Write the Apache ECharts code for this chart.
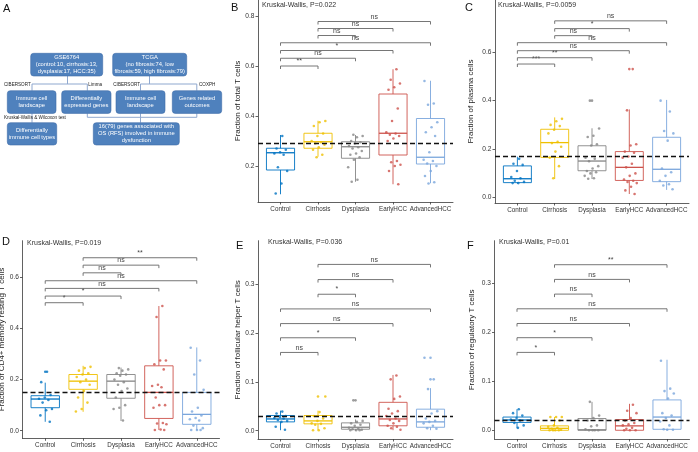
<!DOCTYPE html>
<html><head><meta charset="utf-8">
<script src="https://cdn.jsdelivr.net/npm/echarts@6/dist/echarts.min.js"></script>
<style>html,body{margin:0;padding:0;background:#fff}#c{width:698px;height:452px}</style>
</head><body><div id="c"></div>
<script>
// ---------------- DATA ----------------
const groups = ['Control','Cirrhosis','Dysplasia','EarlyHCC','AdvancedHCC'];
const groupColors = ['#0073C2','#EFC000','#868686','#CD534C','#7AA6DC'];
const comparisons = [[0,1],[0,2],[0,3],[0,4],[1,2],[1,3],[1,4]];

// Panel B : total T cells   box stats = [min, Q1, median, Q3, max]
const bStats = [[0.087,0.184,0.253,0.271,0.324],[0.237,0.271,0.297,0.331,0.381],[0.137,0.231,0.277,0.297,0.324],[0.127,0.244,0.331,0.488,0.587],[0.131,0.208,0.235,0.390,0.541]];
const bPoints = [
  [0.32,0.27,0.265,0.255,0.25,0.245,0.195,0.18,0.13,0.09],
  [0.38,0.375,0.36,0.33,0.32,0.30,0.295,0.29,0.285,0.275,0.265,0.245,0.235],
  [0.325,0.32,0.315,0.30,0.295,0.29,0.28,0.275,0.27,0.26,0.25,0.245,0.235,0.225,0.195,0.145,0.137],
  [0.587,0.545,0.53,0.515,0.505,0.43,0.38,0.335,0.33,0.325,0.32,0.31,0.30,0.22,0.215,0.205,0.20,0.18,0.127],
  [0.54,0.45,0.445,0.375,0.355,0.335,0.32,0.255,0.225,0.22,0.21,0.20,0.18,0.16,0.135,0.13]];
const bOutliers = [[],[],[],[],[]];
const bRef = 0.291;
const bBracketY = [0.600,0.631,0.662,0.693,0.722,0.750,0.778];
const bBracketLabels = ['**','ns','*','ns','ns','ns','ns'];
const bYTicks = [0.2,0.4,0.6,0.8];
const bTitle = 'Fraction of total T cells';
const bKW = 'Kruskal-Wallis, P=0.022';

// Panel C : plasma cells
const cStats = [[0.058,0.062,0.078,0.131,0.169],[0.077,0.166,0.227,0.282,0.331],[0.077,0.111,0.151,0.214,0.286],[0.015,0.071,0.125,0.190,0.364],[0.032,0.066,0.117,0.249,0.403]];
const cPoints = [
  [0.16,0.14,0.135,0.11,0.085,0.08,0.07,0.065,0.06,0.06],
  [0.325,0.315,0.30,0.295,0.28,0.265,0.23,0.225,0.21,0.19,0.165,0.13,0.08],
  [0.40,0.285,0.255,0.25,0.22,0.215,0.165,0.16,0.15,0.13,0.12,0.11,0.105,0.10,0.09,0.08,0.078],
  [0.53,0.36,0.22,0.215,0.19,0.185,0.17,0.165,0.14,0.125,0.10,0.09,0.075,0.07,0.065,0.06,0.045,0.03,0.015],
  [0.40,0.355,0.275,0.265,0.235,0.12,0.105,0.09,0.07,0.055,0.05,0.035]];
const cOutliers = [[],[],[0.40],[0.53],[]];
const cRef = 0.165;
const cBracketY = [0.551,0.577,0.606,0.639,0.668,0.697,0.729];
const cBracketLabels = ['***','**','ns','ns','ns','*','ns'];
const cYTicks = [0.0,0.2,0.4,0.6];
const cTitle = 'Fraction of plasma cells';
const cKW = 'Kruskal-Wallis, P=0.0059';

// Panel D : CD4+ memory resting T cells
const dStats = [[0.035,0.090,0.124,0.137,0.188],[0.074,0.162,0.194,0.220,0.254],[0.038,0.127,0.194,0.220,0.247],[0.003,0.048,0.150,0.254,0.488],[0.003,0.025,0.064,0.150,0.326]];
const dPoints = [
  [0.231,0.19,0.14,0.13,0.125,0.12,0.11,0.085,0.08,0.06,0.035],
  [0.25,0.245,0.235,0.225,0.22,0.21,0.20,0.19,0.18,0.155,0.13,0.11,0.085,0.075],
  [0.245,0.24,0.235,0.225,0.22,0.215,0.20,0.19,0.18,0.165,0.155,0.13,0.10,0.09,0.085,0.04],
  [0.488,0.445,0.275,0.275,0.26,0.24,0.18,0.175,0.17,0.13,0.10,0.10,0.09,0.03,0.028,0.025,0.005,0.003,0.003],
  [0.325,0.275,0.22,0.16,0.09,0.075,0.06,0.05,0.045,0.04,0.02,0.01,0.003,0.003,0.003]];
const dOutliers = [[0.231],[],[],[],[]];
const dRef = 0.150;
const dBracketY = [0.501,0.527,0.557,0.587,0.618,0.648,0.677];
const dBracketLabels = ['*','*','ns','ns','ns','ns','**'];
const dYTicks = [0.0,0.2,0.4,0.6];
const dTitle = 'Fraction of CD4+ memory resting T cells';
const dKW = 'Kruskal-Wallis, P=0.019';

// Panel E : follicular helper T cells
const eStats = [[0.001,0.018,0.024,0.031,0.041],[0.001,0.014,0.020,0.031,0.041],[0.000,0.003,0.007,0.016,0.023],[0.001,0.010,0.024,0.058,0.114],[0.001,0.007,0.018,0.044,0.087]];
const ePoints = [
  [0.039,0.035,0.03,0.028,0.026,0.025,0.022,0.02,0.018,0.008,0.002],
  [0.07,0.038,0.03,0.025,0.02,0.015,0.014,0.012,0.005,0.001,0.001],
  [0.062,0.02,0.018,0.015,0.012,0.01,0.006,0.004,0.003,0.002,0.001,0.001,0.001],
  [0.113,0.105,0.07,0.065,0.045,0.04,0.035,0.03,0.025,0.022,0.02,0.015,0.01,0.008,0.005,0.002],
  [0.149,0.105,0.085,0.04,0.035,0.025,0.02,0.018,0.015,0.01,0.005,0.004]];
const eOutliers = [[],[0.07],[0.062],[],[0.149,0.105]];
const eRef = 0.0266;
const eBracketY = [0.160,0.190,0.219,0.249,0.279,0.309,0.340];
const eBracketLabels = ['ns','*','ns','ns','*','ns','ns'];
const eYTicks = [0.0,0.1,0.2,0.3];
const eTitle = 'Fraction of follicular helper T cells';
const eKW = 'Kruskal-Wallis, P=0.036';

// Panel F : regulatory T cells
const fStats = [[0.004,0.016,0.021,0.027,0.043],[0.000,0.000,0.004,0.009,0.027],[0.000,0.000,0.001,0.024,0.058],[0.000,0.000,0.009,0.022,0.054],[0.000,0.002,0.027,0.062,0.144]];
const fPoints = [
  [0.043,0.035,0.03,0.025,0.022,0.02,0.015,0.01,0.005],
  [0.027,0.027,0.027,0.02,0.01,0.007,0.005,0.003,0.001,0,0,0,0],
  [0.058,0.03,0.025,0.02,0.01,0.008,0.002,0,0,0,0],
  [0.052,0.04,0.035,0.025,0.02,0.015,0.012,0.01,0.005,0.003,0,0,0],
  [0.142,0.085,0.08,0.075,0.065,0.035,0.03,0.025,0.018,0.01,0.002,0.001,0.001]];
const fOutliers = [[],[],[],[],[]];
const fRef = 0.018;
const fBracketY = [0.159,0.189,0.218,0.248,0.278,0.308,0.338];
const fBracketLabels = ['*','*','ns','ns','ns','ns','**'];
const fYTicks = [0.0,0.1,0.2,0.3];
const fTitle = 'Fraction of regulatory T cells';
const fKW = 'Kruskal-Wallis, P=0.01';

// ---------------- LAYOUT ----------------
const FONT = '"Liberation Sans", Arial, sans-serif';
const panels = [
  {letter:'B', stats:bStats, points:bPoints, outliers:bOutliers, ref:bRef, by:bBracketY, bl:bBracketLabels, ticks:bYTicks, title:bTitle, kw:bKW,
   grid:{left:258, top:0, width:195, height:202}, ymin:0.056, ymax:0.864, nameGap:16, letterPos:[231,2], kwPos:[262,5]},
  {letter:'C', stats:cStats, points:cPoints, outliers:cOutliers, ref:cRef, by:cBracketY, bl:cBracketLabels, ticks:cYTicks, title:cTitle, kw:cKW,
   grid:{left:495, top:0, width:194, height:203}, ymin:-0.022, ymax:0.815, nameGap:20, letterPos:[465,2], kwPos:[498,5.5]},
  {letter:'D', stats:dStats, points:dPoints, outliers:dOutliers, ref:dRef, by:dBracketY, bl:dBracketLabels, ticks:dYTicks, title:dTitle, kw:dKW,
   grid:{left:22.5, top:240.7, width:197, height:197.6}, ymin:-0.0297, ymax:0.7437, nameGap:12.5, letterPos:[2,236], kwPos:[27,242.7]},
  {letter:'E', stats:eStats, points:ePoints, outliers:eOutliers, ref:eRef, by:eBracketY, bl:eBracketLabels, ticks:eYTicks, title:eTitle, kw:eKW,
   grid:{left:258, top:240.7, width:195, height:198.3}, ymin:-0.017, ymax:0.3885, nameGap:16, letterPos:[236,240], kwPos:[268,242.3]},
  {letter:'F', stats:fStats, points:fPoints, outliers:fOutliers, ref:fRef, by:fBracketY, bl:fBracketLabels, ticks:fYTicks, title:fTitle, kw:fKW,
   grid:{left:494.5, top:240.7, width:195, height:198.3}, ymin:-0.0178, ymax:0.387, nameGap:19, letterPos:[467,240], kwPos:[499,242.3]}
];

const grids = [], xAxes = [], yAxes = [], series = [], graphics = [];
const axisColor = '#3a3a3a';

function jitter(k, g) {
  const v = ((k + 1) * 0.6180339887 + g * 0.37) % 1;
  return (v - 0.5) * 0.4;
}

panels.forEach((p, idx) => {
  grids.push(Object.assign({containLabel:false, outerBoundsMode:'none'}, p.grid));
  xAxes.push({
    gridIndex: idx, type:'value', min:-0.6, max:4.6,
    axisLine:{show:true, onZero:false, lineStyle:{color:axisColor, width:0.8}},
    axisTick:{show:true, customValues:[0,1,2,3,4], length:2.5, lineStyle:{color:axisColor, width:0.8}},
    axisLabel:{show:true, hideOverlap:false, customValues:[0,1,2,3,4], formatter:(v)=>groups[Math.round(v)], fontSize:6.3, color:'#333', margin:4, fontFamily:FONT},
    splitLine:{show:false}
  });
  yAxes.push({
    gridIndex: idx, type:'value', min:p.ymin, max:p.ymax,
    name:p.title, nameLocation:'middle', nameGap:p.nameGap, nameRotate:90,
    nameTextStyle:{fontSize:8, color:'#222', fontFamily:FONT},
    axisLine:{show:true, onZero:false, lineStyle:{color:axisColor, width:0.8}},
    axisTick:{show:true, customValues:p.ticks, length:2.5, lineStyle:{color:axisColor, width:0.8}},
    axisLabel:{show:true, hideOverlap:false, customValues:p.ticks, formatter:(v)=>v.toFixed(1), fontSize:6.6, color:'#333', margin:3.5, fontFamily:FONT},
    splitLine:{show:false}
  });
  // boxes
  series.push({
    type:'custom', xAxisIndex:idx, yAxisIndex:idx, silent:true, z:2,
    encode:{x:0, y:[1,2,3,4,5]},
    data: p.stats.map((s, g) => [g].concat(s)),
    renderItem: function(params, api) {
      const x = api.value(0);
      const pMin = api.coord([x, api.value(1)]), pQ1 = api.coord([x, api.value(2)]);
      const pMd = api.coord([x, api.value(3)]), pQ3 = api.coord([x, api.value(4)]), pMax = api.coord([x, api.value(5)]);
      const w = api.size([0.75, 0])[0];
      const c = groupColors[params.dataIndex];
      const xl = pQ1[0] - w/2, xr = pQ1[0] + w/2;
      return {type:'group', children:[
        {type:'line', shape:{x1:pMin[0], y1:pMin[1], x2:pQ1[0], y2:pQ1[1]}, style:{stroke:c, lineWidth:0.9}},
        {type:'line', shape:{x1:pQ3[0], y1:pQ3[1], x2:pMax[0], y2:pMax[1]}, style:{stroke:c, lineWidth:0.9}},
        {type:'rect', shape:{x:xl, y:pQ3[1], width:w, height:Math.max(0.5, pQ1[1]-pQ3[1])}, style:{fill:'rgba(255,255,255,0)', stroke:c, lineWidth:0.9}},
        {type:'line', shape:{x1:xl, y1:pMd[1], x2:xr, y2:pMd[1]}, style:{stroke:c, lineWidth:1.3}}
      ]};
    }
  });
  // jittered points + outlier points
  const pts = [];
  p.points.forEach((arr, g) => arr.forEach((v, k) => pts.push([g + jitter(k, g), v, g])));
  p.outliers.forEach((arr, g) => arr.forEach((v) => pts.push([g, v, g])));
  series.push({
    type:'scatter', xAxisIndex:idx, yAxisIndex:idx, silent:true, z:3,
    symbolSize:2.6, data:pts,
    itemStyle:{color:(q)=>groupColors[q.value[2]], opacity:0.8},
    markLine:{silent:true, symbol:['none','none'], label:{show:false},
      lineStyle:{type:[5,3], color:'#111', width:1.3}, data:[{yAxis:p.ref}], animation:false}
  });
  // significance brackets
  const labels = p.bl;
  series.push({
    type:'custom', xAxisIndex:idx, yAxisIndex:idx, silent:true, z:4,
    encode:{x:[0,1], y:2},
    data: comparisons.map((c, i) => [c[0], c[1], p.by[i]]),
    renderItem: function(params, api) {
      const p1 = api.coord([api.value(0), api.value(2)]);
      const p2 = api.coord([api.value(1), api.value(2)]);
      const tip = 3;
      return {type:'group', children:[
        {type:'polyline', shape:{points:[[p1[0], p1[1]+tip],[p1[0], p1[1]],[p2[0], p2[1]],[p2[0], p2[1]+tip]]},
         style:{stroke:'#666', lineWidth:0.9, fill:null}},
        {type:'text', x:(p1[0]+p2[0])/2, y:p1[1]-1.2,
         style:{text:labels[params.dataIndex], fill:'#444', font:'7px ' + FONT, align:'center', verticalAlign:'bottom', textAlign:'center', textVerticalAlign:'bottom'}}
      ]};
    }
  });
  graphics.push({type:'text', x:p.letterPos[0], y:p.letterPos[1],
    style:{text:p.letter, font:'11px ' + FONT, fill:'#111', align:'left', verticalAlign:'top', textAlign:'left', textVerticalAlign:'top'}});
  graphics.push({type:'text', x:p.kwPos[0], y:p.kwPos[1],
    style:{text:p.kw, font:'7px ' + FONT, fill:'#333', align:'left', verticalAlign:'middle', textAlign:'left', textVerticalAlign:'middle'}});
});

// ---------------- PANEL A (flowchart) ----------------
const boxFill = '#4F81BD', boxStroke = '#3E6CA8', connColor = '#8FA8CF';
function fbox(x, y, w, h, text) {
  graphics.push({type:'rect', shape:{x:x, y:y, width:w, height:h, r:3}, style:{fill:boxFill, stroke:boxStroke, lineWidth:0.6}});
  graphics.push({type:'text', x:x + w/2, y:y + h/2,
    style:{text:text, font:'5.8px ' + FONT, fill:'#fff', lineHeight:7, align:'center', verticalAlign:'middle', textAlign:'center', textVerticalAlign:'middle'}});
}
function conn(points) {
  graphics.push({type:'polyline', shape:{points:points}, style:{stroke:connColor, lineWidth:1, fill:null}});
}
function lbl(x, y, text) {
  graphics.push({type:'text', x:x, y:y,
    style:{text:text, font:'4.6px ' + FONT, fill:'#222', align:'left', verticalAlign:'middle', textAlign:'left', textVerticalAlign:'middle'}});
}
graphics.push({type:'text', x:3, y:3, style:{text:'A', font:'11px ' + FONT, fill:'#111', align:'left', verticalAlign:'top', textAlign:'left', textVerticalAlign:'top'}});
// connectors (drawn first)
conn([[67.5,76],[67.5,84]]); conn([[32,90.7],[32,84],[87.3,84],[87.3,90.7]]);
conn([[149.5,76],[149.5,84]]); conn([[140.5,90.7],[140.5,84],[196.8,84],[196.8,90.7]]);
conn([[32,113.3],[32,122.7]]);
conn([[87.3,113.3],[87.3,117.3],[196.8,117.3],[196.8,113.3]]);
conn([[140.5,113.3],[140.5,122.7]]);
fbox(30.7, 53.3, 72, 22.7, 'GSE6764\n(control:10, cirrhosis:13,\ndysplasia:17, HCC:35)');
fbox(112.7, 53.3, 74, 22.7, 'TCGA\n(no fibrosis:74, low\nfibrosis:59, high fibrosis:79)');
fbox(7.3, 90.7, 48.7, 22.7, 'Immune cell\nlandscape');
fbox(61.7, 90.7, 49.3, 22.7, 'Differentially\nexpressed genes');
fbox(116, 90.7, 49, 22.7, 'Immune cell\nlandscape');
fbox(172.3, 90.7, 49.4, 22.7, 'Genes related\noutcomes');
fbox(7.3, 122.7, 49.4, 22.3, 'Differentially\nimmune cell types');
fbox(93.3, 122.7, 86, 22.3, '16(79) genes associated with\nOS (RFS) involved in immune\ndysfunction');
lbl(4, 85, 'CIBERSORT'); lbl(88.3, 85, 'Limma'); lbl(113.3, 85, 'CIBERSORT'); lbl(199, 85, 'COXPH');
lbl(4, 117.7, 'Kruskal-Wallis & Wilcoxon test');

const chart = echarts.init(document.getElementById('c'), null, {renderer:'canvas'});
chart.setOption({
  animation:false,
  backgroundColor:'#fff',
  textStyle:{fontFamily:FONT},
  grid:grids, xAxis:xAxes, yAxis:yAxes, series:series,
  graphic:{elements:graphics}
});
</script></body></html>
